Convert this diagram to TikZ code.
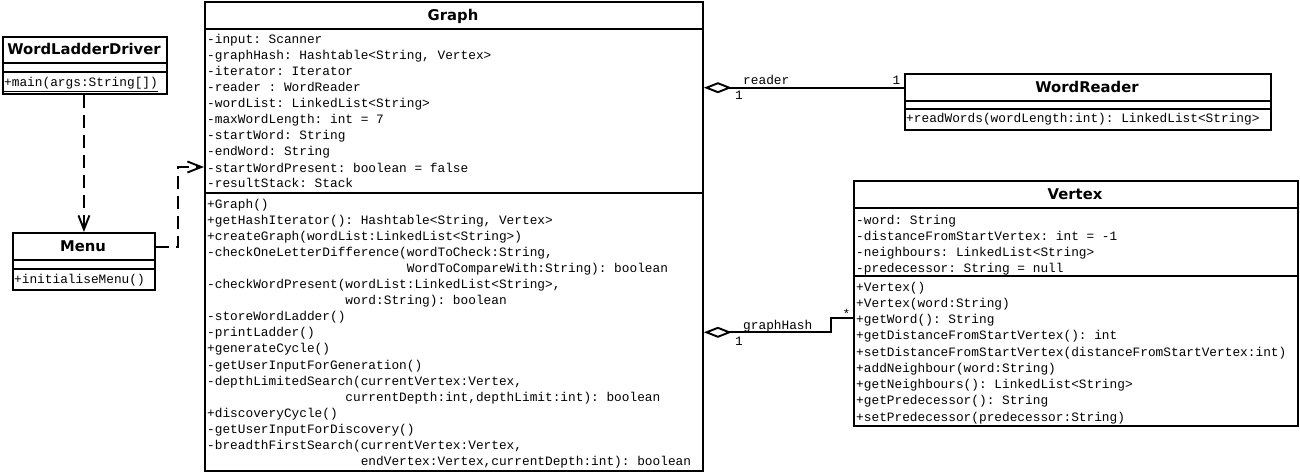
\documentclass[tikz,border=0pt]{standalone}
\usepackage{fontspec}
\setmonofont{Liberation Mono}
\newfontfamily\titlefont{DejaVu Sans}
\usetikzlibrary{arrows.meta,calc}
\newcommand\umlind[1]{\hspace*{#1em}}
\newcommand\umllines[5]{%
  \foreach \t [count=\i] in {#5} {
    \node[txt] (#1\i) at (#2, {#3+(\i-1)*#4}) {\t};
  }%
}
\tikzset{
  classbox/.style={draw, line width=1.9pt, inner sep=0pt, anchor=north west},
  sepline/.style={line width=1.9pt},
  ttl/.style={anchor=base, inner sep=0pt, font=\titlefont\bfseries\fontsize{14.8}{16}\selectfont},
  txt/.style={anchor=base west, inner sep=0pt, font=\ttfamily\fontsize{12.8}{15}\selectfont},
  dep/.style={line width=1.9pt, dash pattern=on 13pt off 7pt, -{Straight Barb[length=14pt,width=11pt]}},
  agg/.style={line width=1.9pt, {Diamond[open,length=28pt,width=11pt]}-},
}
\begin{document}
\begin{tikzpicture}[x=1pt,y=-1pt]
\fill[white] (0,0) rectangle (1300,473);
\useasboundingbox (0,0) rectangle (1300,473);

% WordLadderDriver
\node[classbox, minimum width=164pt, minimum height=57pt] (driver) at (2,36) {};
\draw[sepline] (2,63) -- (166,63);
\draw[sepline] (2,72) -- (166,72);
\node[ttl] (driverT) at (84,55) {WordLadderDriver};
\node[txt] (driverM) at (4,87) {\underline{+main(args:String[])}};

% Menu
\node[classbox, minimum width=142pt, minimum height=57pt] (menu) at (12,232) {};
\draw[sepline] (12,260) -- (154,260);
\draw[sepline] (12,269) -- (154,269);
\node[ttl] (menuT) at (83,251.5) {Menu};
\node[txt] (menuM) at (14,283) {+initialiseMenu()};

% Graph
\node[classbox, minimum width=498pt, minimum height=469pt] (graph) at (204,1) {};
\draw[sepline] (204,29) -- (702,29);
\draw[sepline] (204,193) -- (702,193);
\node[ttl] (graphT) at (453,20.5) {Graph};
\umllines{ga}{207}{44}{16}{{-input: Scanner},{-graphHash: Hashtable<String, Vertex>},{-iterator: Iterator},{-reader : WordReader},{-wordList: LinkedList<String>},{-maxWordLength: int = 7},{-startWord: String},{-endWord: String},{-startWordPresent: boolean = false},{-resultStack: Stack}}
\umllines{gm}{207}{208}{16.1}{{+Graph()},{+getHashIterator(): Hashtable<String, Vertex>},{+createGraph(wordList:LinkedList<String>)},{-checkOneLetterDifference(wordToCheck:String,},{\umlind{15.6}WordToCompareWith:String): boolean},{-checkWordPresent(wordList:LinkedList<String>,},{\umlind{10.8}word:String): boolean},{-storeWordLadder()},{-printLadder()},{+generateCycle()},{-getUserInputForGeneration()},{-depthLimitedSearch(currentVertex:Vertex,},{\umlind{10.8}currentDepth:int,depthLimit:int): boolean},{+discoveryCycle()},{-getUserInputForDiscovery()},{-breadthFirstSearch(currentVertex:Vertex,},{\umlind{12}endVertex:Vertex,currentDepth:int): boolean}}

% WordReader
\node[classbox, minimum width=366pt, minimum height=56pt] (wr) at (904,73) {};
\draw[sepline] (904,101) -- (1270,101);
\draw[sepline] (904,109) -- (1270,109);
\node[ttl] (wrT) at (1087,92.5) {WordReader};
\node[txt] (wrM) at (906,123) {+readWords(wordLength:int): LinkedList<String>};

% Vertex
\node[classbox, minimum width=444pt, minimum height=245pt] (vertex) at (853,180) {};
\draw[sepline] (853,208) -- (1297,208);
\draw[sepline] (853,276) -- (1297,276);
\node[ttl] (vertexT) at (1075,199.5) {Vertex};
\umllines{va}{856}{224}{16}{{-word: String},{-distanceFromStartVertex: int = -1},{-neighbours: LinkedList<String>},{-predecessor: String = null}}
\umllines{vm}{856}{291}{16.25}{{+Vertex()},{+Vertex(word:String)},{+getWord(): String},{+getDistanceFromStartVertex(): int},{+setDistanceFromStartVertex(distanceFromStartVertex:int)},{+addNeighbour(word:String)},{+getNeighbours(): LinkedList<String>},{+getPredecessor(): String},{+setPredecessor(predecessor:String)}}

% connectors
\draw[dep] (menu.north |- driver.south) -- (menu.north);
\coordinate (mr) at ($(menu.north east)+(0,15)$);
\coordinate (gl) at ($(graph.north west)+(0,166)$);
\draw[dep] (mr) -- ++(22,0) |- (gl);

\coordinate (wrl) at ($(wr.north west)+(0,14.7)$);
\draw[agg] (graph.east |- wrl) -- (wrl);
\node[txt] (lreader) at (743,84.5) {reader};
\node[txt] (lr1) at (735,100) {1};
\node[txt] (lr2) at (892.5,84.5) {1};

\coordinate (gh) at ($(graph.north east)+(0,331.3)$);
\coordinate (vxl) at ($(vertex.north west)+(0,138.3)$);
\draw[agg] (gh) -- ++(127,0) |- (vxl);
\node[txt] (lgh) at (743,329) {graphHash};
\node[txt] (lg1) at (735,345) {1};
\node[txt] (lgs) at (842.5,318.5) {*};
\end{tikzpicture}
\end{document}
